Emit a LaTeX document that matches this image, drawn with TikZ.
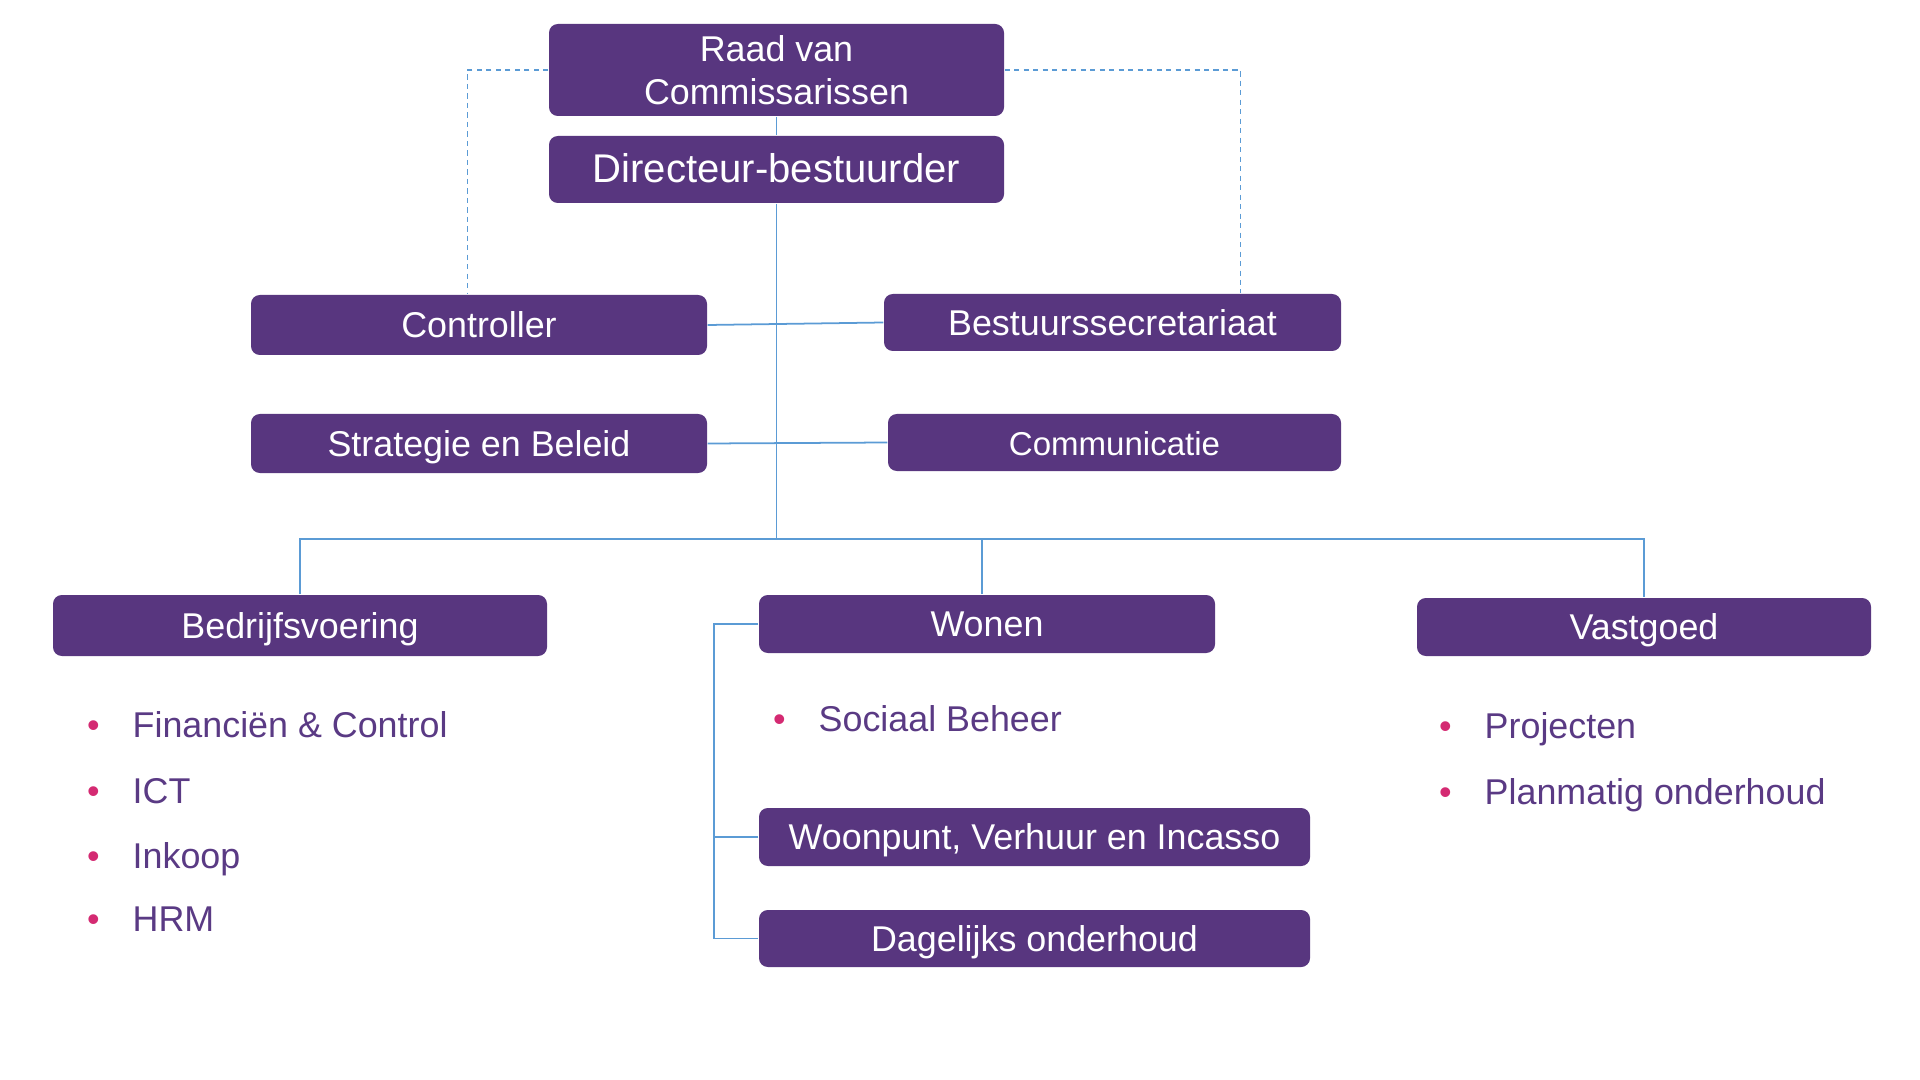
\documentclass[tikz,border=0pt]{standalone}
\usepackage{fontspec}
\setmainfont{Liberation Sans}
\usepackage{tikz}
\usetikzlibrary{positioning, calc}
\usepackage{xcolor}
\definecolor{orgpurple}{HTML}{58367F}
\definecolor{itempurple}{HTML}{5A3A84}
\definecolor{bulletpink}{HTML}{D42A72}
\definecolor{linkblue}{HTML}{5B9BD5}

\newcommand{\orgitem}[1]{\llap{\textcolor{bulletpink}{\textbullet}\hspace{0.33cm}}#1}

\begin{document}
\begin{tikzpicture}[
    unit/.style = {rectangle, rounded corners=2.5pt, fill=orgpurple, text=white,
                   inner sep=0pt, align=center, text height=0.72em, text depth=0pt,
                   font=\fontsize{10.2}{12.2}\selectfont},
    item/.style = {anchor=base west, inner sep=0pt, text=itempurple,
                   font=\fontsize{10.2}{12.2}\selectfont},
    link/.style = {draw=linkblue, line width=0.5pt},
    advice/.style = {draw=linkblue, line width=0.4pt, dash pattern=on 1.5pt off 1.2pt}
  ]
  \useasboundingbox (0, 0) rectangle (19.2, -10.8);

  % top of the organisation
  \node[unit, text height=, text depth=, minimum width=4.55cm, minimum height=0.92cm] (raad) at (7.765, -0.70) {Raad van\\Commissarissen};
  \node[unit, minimum width=4.55cm, minimum height=0.67cm, font=\fontsize{11.4}{13}\selectfont] (dir) at (7.765, -1.695) {Directeur-bestuurder};

  % staff units
  \node[unit, minimum width=4.56cm, minimum height=0.60cm] (ctrl)  at (4.79, -3.25)   {Controller};
  \node[unit, minimum width=4.57cm, minimum height=0.57cm] (secr)  at (11.125, -3.225) {Bestuurssecretariaat};
  \node[unit, minimum width=4.56cm, minimum height=0.59cm] (strat) at (4.79, -4.435)  {Strategie en Beleid};
  \node[unit, minimum width=4.53cm, minimum height=0.57cm, font=\fontsize{9.4}{11}\selectfont] (comm) at (11.145, -4.425) {Communicatie};

  % line departments
  \node[unit, minimum width=4.94cm, minimum height=0.61cm] (bedr)  at (3.00, -6.255)  {Bedrijfsvoering};
  \node[unit, minimum width=4.56cm, minimum height=0.58cm] (wonen) at (9.87, -6.24)   {Wonen};
  \node[unit, minimum width=4.54cm, minimum height=0.58cm] (vast)  at (16.44, -6.27)  {Vastgoed};
  \node[unit, minimum width=5.51cm, minimum height=0.58cm] (woonp) at (10.345, -8.37) {Woonpunt, Verhuur en Incasso};
  \node[unit, minimum width=5.51cm, minimum height=0.57cm] (dag)   at (10.345, -9.385) {Dagelijks onderhoud};

  % teams
  \node[item] (fin)  at (1.32, -7.37) {\orgitem{Financiën \& Control}};
  \node[item] (ict)  at (1.32, -8.03) {\orgitem{ICT}};
  \node[item] (ink)  at (1.32, -8.68) {\orgitem{Inkoop}};
  \node[item] (hrm)  at (1.32, -9.31) {\orgitem{HRM}};
  \node[item] (soc)  at (8.18, -7.31) {\orgitem{Sociaal Beheer}};
  \node[item] (proj) at (14.84, -7.38) {\orgitem{Projecten}};
  \node[item] (plan) at (14.84, -8.04) {\orgitem{Planmatig onderhoud}};

  % connectors
  \coordinate (bar) at (7.765, -5.39);
  \draw[link] (raad) -- (dir);
  \draw[link] (dir) -- (bar);
  \draw[link] (ctrl.east) -- (secr.west);
  \draw[link] (strat.east) -- (comm.west);
  \draw[link] (bedr.north) -- (bedr.north |- bar) -- (vast.north |- bar) -- (vast.north);
  \draw[link] ([xshift=-0.05cm]wonen.north) -- ([xshift=-0.05cm]wonen.north |- bar);
  \draw[link] (wonen.west) -- ++(-0.44, 0) |- (dag.west);
  \draw[link] (woonp.west) -- ++(-0.44, 0);

  % supervision lines
  \draw[advice] (raad.west) -| ([xshift=2.17cm]ctrl.north west);
  \draw[advice] (raad.east) -| ([xshift=-1.01cm]secr.north east);
\end{tikzpicture}
\end{document}
